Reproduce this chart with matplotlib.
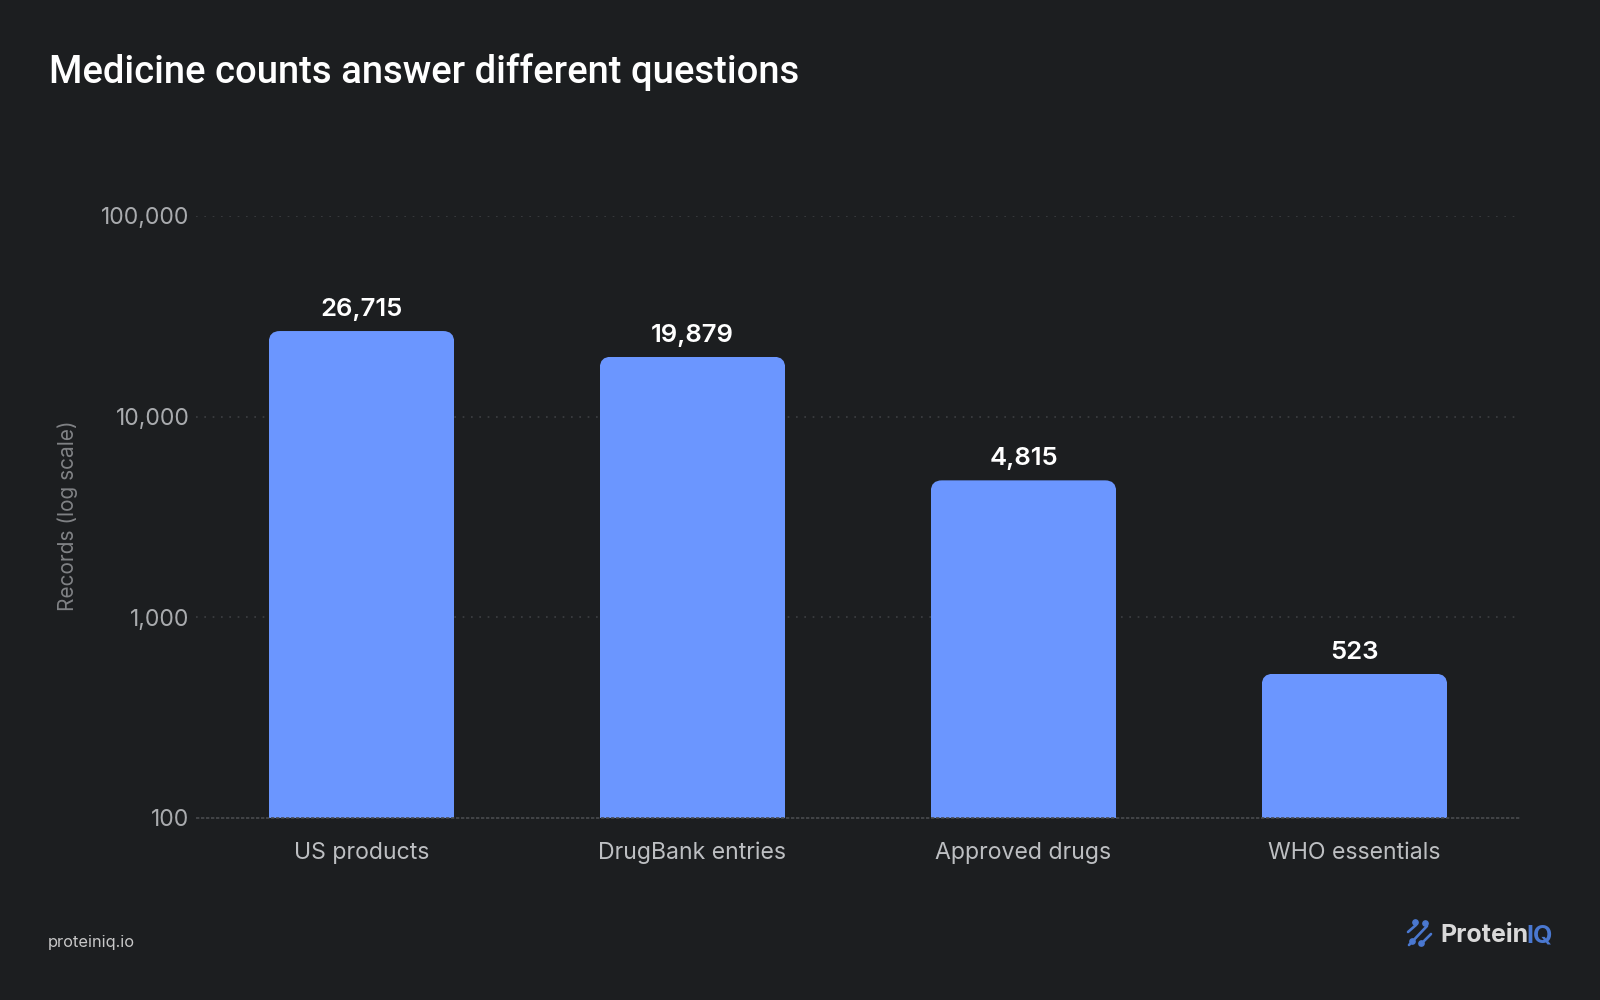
import matplotlib
matplotlib.use("Agg")
import matplotlib.pyplot as plt
from matplotlib.lines import Line2D
from matplotlib.patches import FancyBboxPatch
from matplotlib.transforms import IdentityTransform

categories = ["US products", "DrugBank entries", "Approved drugs", "WHO essentials"]
records = [26715, 19879, 4815, 523]
y_ticks = [100, 1000, 10000, 100000]

BG = "#1c1e20"
BAR = "#6b96ff"
LOGO_BLUE = "#4a78d0"

plt.rcParams["font.family"] = ["Inter", "DejaVu Sans"]

W, H = 1600, 1000
fig = plt.figure(figsize=(16, 10), dpi=100, facecolor=BG)
# axes box in pixels, measured from the top left of the picture
left, right, top, bottom = 196, 1520, 216, 818
ax = fig.add_axes([left / W, 1 - bottom / H, (right - left) / W, (bottom - top) / H])
ax.set_facecolor(BG)

bars = ax.bar(range(4), records, width=0.56, bottom=0.001, color=BAR, zorder=3, linewidth=0)
ax.set_yscale("log")
ax.set_ylim(100, 100000)
ax.set_xlim(-0.5, 3.5)
ax.minorticks_off()
ax.set_yticks(y_ticks, [f"{v:,}" for v in y_ticks])
ax.set_xticks(range(4), categories)
ax.tick_params(axis="y", length=0, pad=4.8, labelsize=16.5, labelcolor="#a9abae")
ax.tick_params(axis="x", length=0, pad=29.5, labelsize=16.6, labelcolor="#bdbfc2")
for t in ax.get_xticklabels():
    t.set_va("baseline")
for s in ax.spines.values():
    s.set_visible(False)
for v in y_ticks[1:]:
    ax.axhline(v, color="#3d3f42", lw=1.2, ls=(0, (1, 4)), zorder=1)
ax.axhline(100, color="#494b4e", lw=1.2, ls=(0, (2, 1)), zorder=4, clip_on=False)

for i, v in enumerate(records):
    ax.annotate(f"{v:,}", (i, v), xytext=(0, 10), textcoords="offset pixels", ha="center", va="bottom",
                color="white", fontsize=18.5, fontweight="semibold", zorder=5)

# round the top corners of each bar
fig.canvas.draw()
for b in bars:
    e = b.get_window_extent()
    clip = FancyBboxPatch((e.x0, H - bottom - 40), e.width, e.y1 - (H - bottom) + 40, transform=IdentityTransform(),
                          boxstyle="round,pad=0,rounding_size=11")
    b.set_clip_path(clip)


def fx(x):
    return x / W


def fy(y):
    return 1 - y / H


fig.text(fx(68), fy(516), "Records (log scale)", rotation=90, ha="center", va="center", color="#808285", fontsize=15)
fig.text(fx(49), fy(72), "Medicine counts answer different questions", ha="left", va="center",
         color="white", fontsize=27.5, fontweight="medium", family=["Roboto", "DejaVu Sans"])
fig.text(fx(48), fy(943), "proteiniq.io", ha="left", va="center", color="#c8c8c8", fontsize=11.8)

# logo mark
strokes = [((1408, 932), (1416, 925)), ((1409, 945), (1427, 926)), ((1420, 945), (1431, 934))]
for (x0, y0), (x1, y1) in strokes:
    fig.add_artist(Line2D([fx(x0), fx(x1)], [fy(y0), fy(y1)], color=LOGO_BLUE, lw=1.9, solid_capstyle="round"))
for x, y in [(1415, 922), (1425, 923), (1412, 941), (1421, 943)]:
    fig.add_artist(Line2D([fx(x)], [fy(y)], marker="o", ms=3.8, color=LOGO_BLUE, ls=""))
fig.text(fx(1440), fy(942), "Protein", ha="left", va="baseline", color="#d9d9d9", fontsize=18, fontweight="bold")
fig.text(fx(1526), fy(942), "IQ", ha="left", va="baseline", color=LOGO_BLUE, fontsize=18, fontweight="bold")

fig.savefig("out.png", dpi=100, facecolor=BG)
